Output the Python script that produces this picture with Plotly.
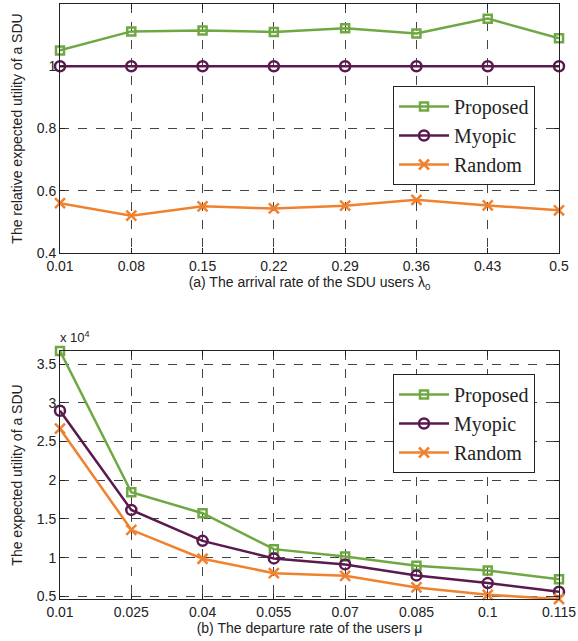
import plotly.graph_objects as go
from plotly.subplots import make_subplots

# ---- data (top panel) ----
arrival_rate = [0.01, 0.08, 0.15, 0.22, 0.29, 0.36, 0.43, 0.5]
arrival_labels = ["0.01", "0.08", "0.15", "0.22", "0.29", "0.36", "0.43", "0.5"]
rel_proposed = [1.051, 1.112, 1.115, 1.110, 1.122, 1.105, 1.153, 1.090]
rel_myopic = [1.0, 1.0, 1.0, 1.0, 1.0, 1.0, 1.0, 1.0]
rel_random = [0.560, 0.520, 0.550, 0.543, 0.552, 0.571, 0.553, 0.537]

# ---- data (bottom panel), in units of 10^4 ----
departure_rate = [0.01, 0.025, 0.04, 0.055, 0.07, 0.085, 0.1, 0.115]
departure_labels = ["0.01", "0.025", "0.04", "0.055", "0.07", "0.085", "0.1", "0.115"]
util_proposed = [3.67, 1.845, 1.574, 1.11, 1.016, 0.895, 0.835, 0.72]
util_myopic = [2.898, 1.617, 1.217, 0.99, 0.913, 0.771, 0.672, 0.56]
util_random = [2.666, 1.36, 0.986, 0.80, 0.766, 0.616, 0.52, 0.466]

top_yticks = [0.4, 0.6, 0.8, 1.0]
top_yticklabels = ["0.4", "0.6", "0.8", "1"]
bot_yticks = [0.5, 1.0, 1.5, 2.0, 2.5, 3.0, 3.5]
bot_yticklabels = ["0.5", "1", "1.5", "2", "2.5", "3", "3.5"]

series_names = ["Proposed", "Myopic", "Random"]
colors = ["#6FA843", "#5A1A4E", "#F0822F"]
symbols = ["square-open", "circle-open", "x-thin-open"]
msizes = [8, 10, 10]

fig = make_subplots(rows=2, cols=1)

top_series = [rel_proposed, rel_myopic, rel_random]
bot_series = [util_proposed, util_myopic, util_random]

for i, name in enumerate(series_names):
    fig.add_trace(go.Scatter(
        x=arrival_rate, y=top_series[i], name=name, mode="lines+markers",
        line=dict(color=colors[i], width=2.5),
        marker=dict(symbol=symbols[i], size=msizes[i], color=colors[i],
                    line=dict(color=colors[i], width=2.5)),
        legend="legend", cliponaxis=False), row=1, col=1)
for i, name in enumerate(series_names):
    fig.add_trace(go.Scatter(
        x=departure_rate, y=bot_series[i], name=name, mode="lines+markers",
        line=dict(color=colors[i], width=2.5),
        marker=dict(symbol=symbols[i], size=msizes[i], color=colors[i],
                    line=dict(color=colors[i], width=2.5)),
        legend="legend2", cliponaxis=False), row=2, col=1)

SANS = "Liberation Sans"
tickfont = dict(family=SANS, size=14, color="#222")
axis_common = dict(
    showline=True, linecolor="#222", linewidth=1, mirror="ticks",
    ticks="inside", ticklen=5, tickcolor="#222",
    showgrid=True, gridcolor="#444", griddash="dash", gridwidth=1,
    zeroline=False, tickfont=tickfont, automargin=False,
    ticklabeloverflow="allow",
)

fig.update_xaxes(**axis_common)
fig.update_yaxes(**axis_common)

fig.update_xaxes(row=1, col=1, range=[arrival_rate[0], arrival_rate[-1]],
                 tickvals=arrival_rate, ticktext=arrival_labels,
                 title=dict(text="(a) The arrival rate of the SDU users λ<sub>0</sub>",
                            font=tickfont, standoff=3))
fig.update_yaxes(row=1, col=1, range=[0.4, 1.2],
                 tickvals=top_yticks, ticktext=top_yticklabels,
                 title=dict(text="The relative expected utility of a SDU",
                            font=tickfont, standoff=10))

all_bot = util_proposed + util_myopic + util_random
fig.update_xaxes(row=2, col=1, range=[departure_rate[0], departure_rate[-1]],
                 tickvals=departure_rate, ticktext=departure_labels,
                 title=dict(text="(b) The departure rate of the users μ",
                            font=tickfont, standoff=3))
fig.update_yaxes(row=2, col=1, range=[min(all_bot), max(all_bot)],
                 tickvals=bot_yticks, ticktext=bot_yticklabels,
                 title=dict(text="The expected utility of a SDU",
                            font=tickfont, standoff=10))

H, W = 641, 578
mt, mb, ml, mr = 4, 42, 60, 19
ph = H - mt - mb
pw = W - ml - mr
fig.update_layout(
    xaxis=dict(domain=[0, 1]), xaxis2=dict(domain=[0, 1]),
    yaxis=dict(domain=[(599 - 253) / ph, 1.0]),
    yaxis2=dict(domain=[0, (599 - 351) / ph]),
)

legend_common = dict(
    bgcolor="white", bordercolor="#222", borderwidth=1,
    font=dict(family="Liberation Serif", size=20, color="#222"),
    xanchor="left", yanchor="top", itemwidth=50, tracegroupgap=0,
)
fig.update_layout(
    width=W, height=H,
    margin=dict(l=ml, r=mr, t=mt, b=mb, autoexpand=False),
    paper_bgcolor="white", plot_bgcolor="white",
    showlegend=True,
    legend=dict(x=(393 - ml) / pw, y=(599 - 86) / ph, **legend_common),
    legend2=dict(x=(393 - ml) / pw, y=(599 - 374) / ph, **legend_common),
)

fig.add_annotation(text="x 10<sup>4</sup>", xref="paper", yref="paper",
                   x=(58 - ml) / pw, y=(599 - 347) / ph,
                   xanchor="left", yanchor="bottom", showarrow=False,
                   font=dict(family=SANS, size=13, color="#222"))

fig.write_html("out.html", config={"displayModeBar": False},
               post_script="document.body.style.margin='0';")
